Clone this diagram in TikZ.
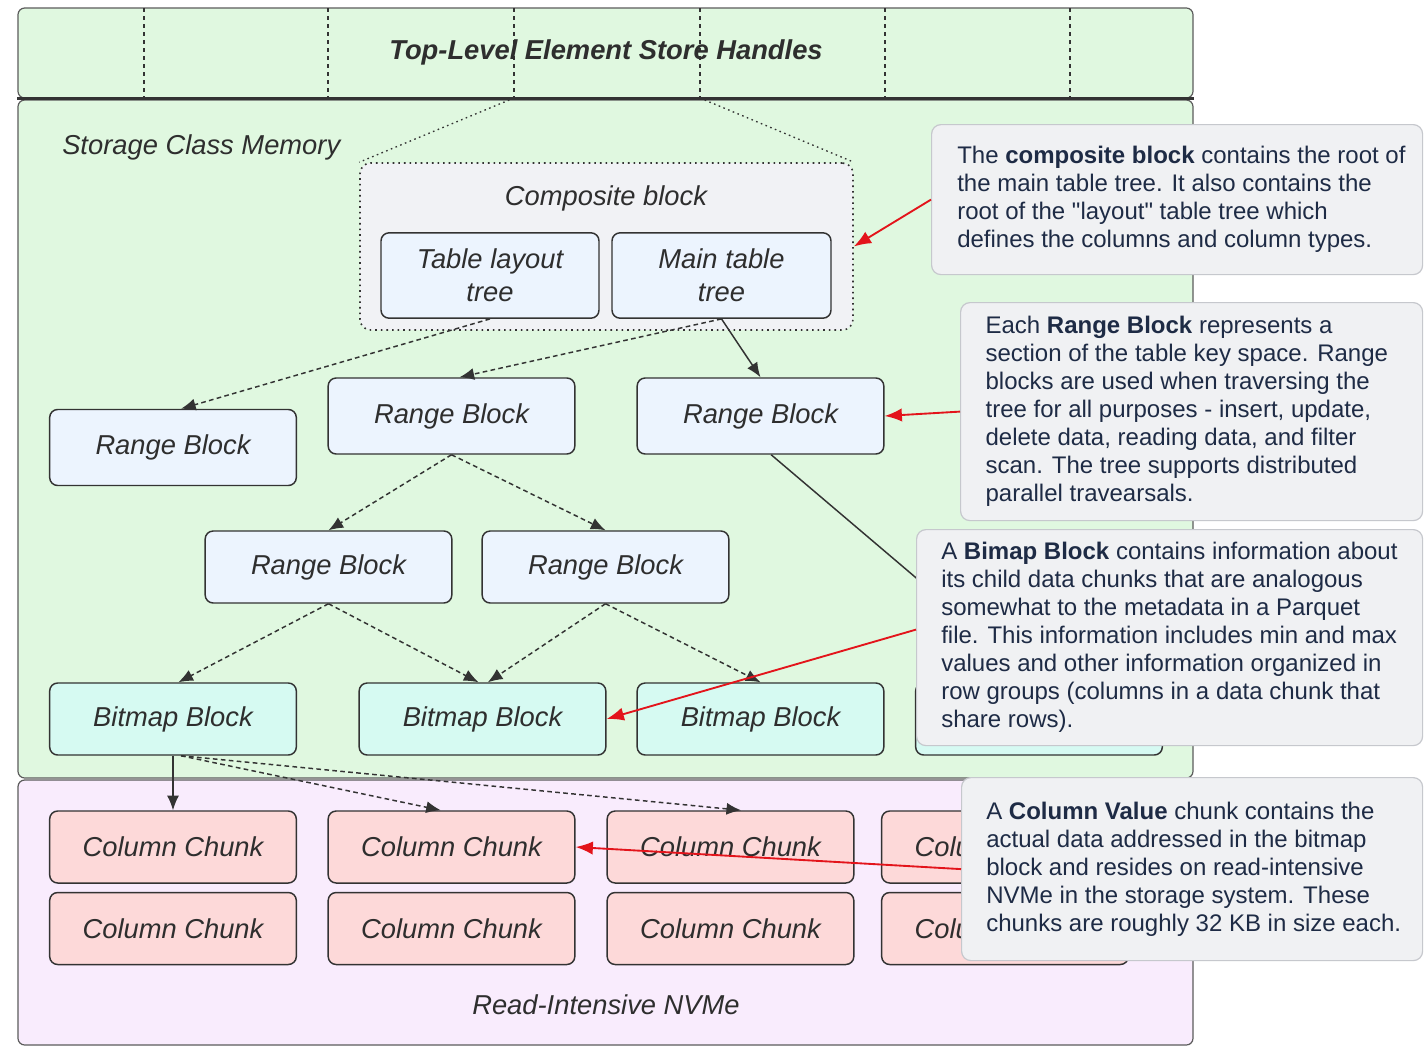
\documentclass[tikz,border=0pt]{standalone}
\usepackage{fontspec}
\setmainfont{Liberation Sans}[Ligatures=TeXOff]
\usetikzlibrary{arrows.meta}
\definecolor{scmgreen}{HTML}{E0F8E0}
\definecolor{nvmelav}{HTML}{F9ECFD}
\definecolor{compfill}{HTML}{F1F2F5}
\definecolor{rbfill}{HTML}{ECF4FE}
\definecolor{bmfill}{HTML}{D6FAF2}
\definecolor{ccfill}{HTML}{FDD9D9}
\definecolor{callfill}{HTML}{F0F1F3}
\definecolor{callborder}{HTML}{C6C8CD}
\definecolor{calltext}{HTML}{1E2B45}
\definecolor{lbltext}{HTML}{2E2E2E}
\definecolor{edge}{HTML}{333333}
\definecolor{redarrow}{HTML}{E3141B}
\tikzset{
  container/.style={draw=edge!80, line width=0.9pt, rounded corners=5pt, inner sep=0pt},
  blk/.style={draw=edge, line width=1.1pt, rounded corners=6pt, inner sep=0pt, align=center,
    font=\fontsize{20.5}{24.5}\selectfont\itshape, text=lbltext},
  rb/.style={blk, fill=rbfill, minimum width=185pt, minimum height=57pt},
  rbs/.style={blk, fill=rbfill, minimum width=185pt, minimum height=54pt},
  bm/.style={blk, fill=bmfill, minimum width=185pt, minimum height=54pt},
  cc/.style={blk, fill=ccfill, minimum width=185pt, minimum height=54pt},
  lbl/.style={font=\fontsize{20.5}{24.5}\selectfont\itshape, text=lbltext, inner sep=0pt},
  callbox/.style={draw=callborder, fill=callfill, line width=0.9pt, rounded corners=7pt, anchor=north west, inner sep=0pt},
  calltxt/.style={font=\fontsize{18}{21}\selectfont, text=calltext, align=left, anchor=west, inner sep=0pt},
  conn/.style={draw=edge, line width=1.1pt, -{Latex[length=11pt,width=9pt]}},
  dconn/.style={conn, dash pattern=on 3.5pt off 2.5pt},
  redconn/.style={draw=redarrow, line width=1.4pt, -{Latex[length=13pt,width=10pt]}},
  vdash/.style={draw=edge, line width=0.8pt, dash pattern=on 3pt off 3pt},
  vdot/.style={draw=edge, line width=1pt, dash pattern=on 1.2pt off 2.6pt}
}
\begin{document}
\begin{tikzpicture}[x=0.75pt,y=-0.75pt]
\useasboundingbox (0,0) rectangle (1424,1047);
\fill[white] (0,0) rectangle (1424,1047);

% containers
\node[container, fill=nvmelav, minimum width=881.25pt, minimum height=198.75pt] (nvme) at (605.5,912.5) {};
\node[container, fill=scmgreen, minimum width=881.25pt, minimum height=508.5pt] (scm) at (605.5,439) {};
\node[container, fill=scmgreen, minimum width=881.25pt, minimum height=67.5pt] (top) at (605.5,53) {};
\draw[edge, line width=2.4pt] (top.south west) -- (top.south east);

% top band dashed dividers
\coordinate (d1t) at (144,8); \coordinate (d1b) at (144,98);
\coordinate (d2t) at (328,8); \coordinate (d2b) at (328,98);
\coordinate (d3t) at (514,8); \coordinate (d3b) at (514,98);
\coordinate (d4t) at (700,8); \coordinate (d4b) at (700,98);
\coordinate (d5t) at (885,8); \coordinate (d5b) at (885,98);
\coordinate (d6t) at (1070,8); \coordinate (d6b) at (1070,98);
\foreach \i in {1,...,6} {\draw[vdash] (d\i t) -- (d\i b);}
\node[lbl, font=\fontsize{20.5}{24.5}\selectfont\bfseries\itshape] (toplbl) at (606,52) {Top-Level Element Store Handles};

% labels of containers
\node[lbl, anchor=west] (scmlbl) at (62,147) {Storage Class Memory};
\node[lbl] (nvmelbl) at (606,1005) {Read-Intensive NVMe};

% composite block
\node[draw=edge, fill=compfill, line width=1.2pt, dash pattern=on 1.2pt off 3pt, rounded corners=8pt,
      minimum width=369.75pt, minimum height=125.25pt, inner sep=0pt] (comp) at (606.5,246.5) {};
\draw[vdot] (d3b) -- (comp.north west);
\draw[vdot] (d4b) -- (comp.north east);
\node[lbl] (complbl) at (606,198) {Composite block};
\node[blk, fill=rbfill, minimum width=163.5pt, minimum height=64pt] (tl) at (490,275.5) {Table layout\\tree};
\node[blk, fill=rbfill, minimum width=164.25pt, minimum height=64pt] (mt) at (721.5,275.5) {Main table\\tree};

% range blocks
\node[rb] (rA) at (173,447.5) {Range Block};
\node[rb] (rB) at (451.5,416) {Range Block};
\node[rb] (rC) at (760.5,416) {Range Block};
\node[rbs] (rD) at (328.5,567) {Range Block};
\node[rbs] (rE) at (605.5,567) {Range Block};

% bitmap blocks
\node[bm] (bm1) at (173,719) {Bitmap Block};
\node[bm] (bm2) at (482.5,719) {Bitmap Block};
\node[bm] (bm3) at (760.5,719) {Bitmap Block};
\node[bm] (bm4) at (1039,719) {};

% column chunks
\node[cc] (c11) at (173,847) {Column Chunk};
\node[cc] (c12) at (451.5,847) {Column Chunk};
\node[cc] (c13) at (730.5,847) {Column Chunk};
\node[cc] (c14) at (1005,847) {Column Chunk};
\node[cc] (c21) at (173,928.5) {Column Chunk};
\node[cc] (c22) at (451.5,928.5) {Column Chunk};
\node[cc] (c23) at (730.5,928.5) {Column Chunk};
\node[cc] (c24) at (1005,928.5) {Column Chunk};

% black connectors
\draw[dconn] (tl.south) -- ([xshift=6pt]rA.north);
\draw[dconn] (mt.south) -- ([xshift=6pt]rB.north);
\draw[conn] (mt.south) -- (rC.north);
\draw[dconn] (rB.south) -- (rD.north);
\draw[dconn] (rB.south) -- (rE.north);
\draw[draw=edge, line width=1.1pt] ([xshift=8pt]rC.south) -- (bm4.north);
\draw[dconn] (rD.south) -- ([xshift=4pt]bm1.north);
\draw[dconn] (rD.south) -- ([xshift=-3pt]bm2.north);
\draw[dconn] (rE.south) -- ([xshift=4pt]bm2.north);
\draw[dconn] (rE.south) -- (bm3.north);
\draw[conn] (bm1.south) -- (c11.north);
\draw[dconn] ([xshift=6pt]bm1.south) -- ([xshift=-8pt]c12.north);
\draw[dconn] ([xshift=6pt]bm1.south) -- ([xshift=8pt]c13.north);

% callouts
\node[callbox, minimum width=368.25pt, minimum height=112.5pt] (cb1) at (931,124) {};
\node[calltxt] (ct1) at ([xshift=19.5pt]cb1.west) {The \textbf{composite block} contains the root of\\the main table tree. It also contains the\\root of the "layout" table tree which\\defines the columns and column types.};
\node[callbox, minimum width=346.5pt, minimum height=163.5pt] (cb2) at (960,302) {};
\node[calltxt] (ct2) at ([xshift=19pt]cb2.west) {Each \textbf{Range Block} represents a\\section of the table key space. Range\\blocks are used when traversing the\\tree for all purposes - insert, update,\\delete data, reading data, and filter\\scan. The tree supports distributed\\parallel travearsals.};
\node[callbox, minimum width=379.5pt, minimum height=162pt] (cb3) at (916,529) {};
\node[calltxt] (ct3) at ([xshift=18.75pt]cb3.west) {A \textbf{Bimap Block} contains information about\\its child data chunks that are analogous\\somewhat to the metadata in a Parquet\\file. This information includes min and max\\values and other information organized in\\row groups (columns in a data chunk that\\share rows).};
\node[callbox, minimum width=345.75pt, minimum height=137.25pt] (cb4) at (961,777) {};
\node[calltxt] (ct4) at ([xshift=18.75pt]cb4.west) {A \textbf{Column Value} chunk contains the\\actual data addressed in the bitmap\\block and resides on read-intensive\\NVMe in the storage system. These\\chunks are roughly 32 KB in size each.};

% red connectors
\draw[redconn] (cb1.west) -- (comp.east);
\draw[redconn] (cb2.west) -- (rC.east);
\draw[redconn] ([yshift=6pt]cb3.west) -- (bm2.east);
\draw[redconn] (cb4.west) -- (c12.east);
\end{tikzpicture}
\end{document}
